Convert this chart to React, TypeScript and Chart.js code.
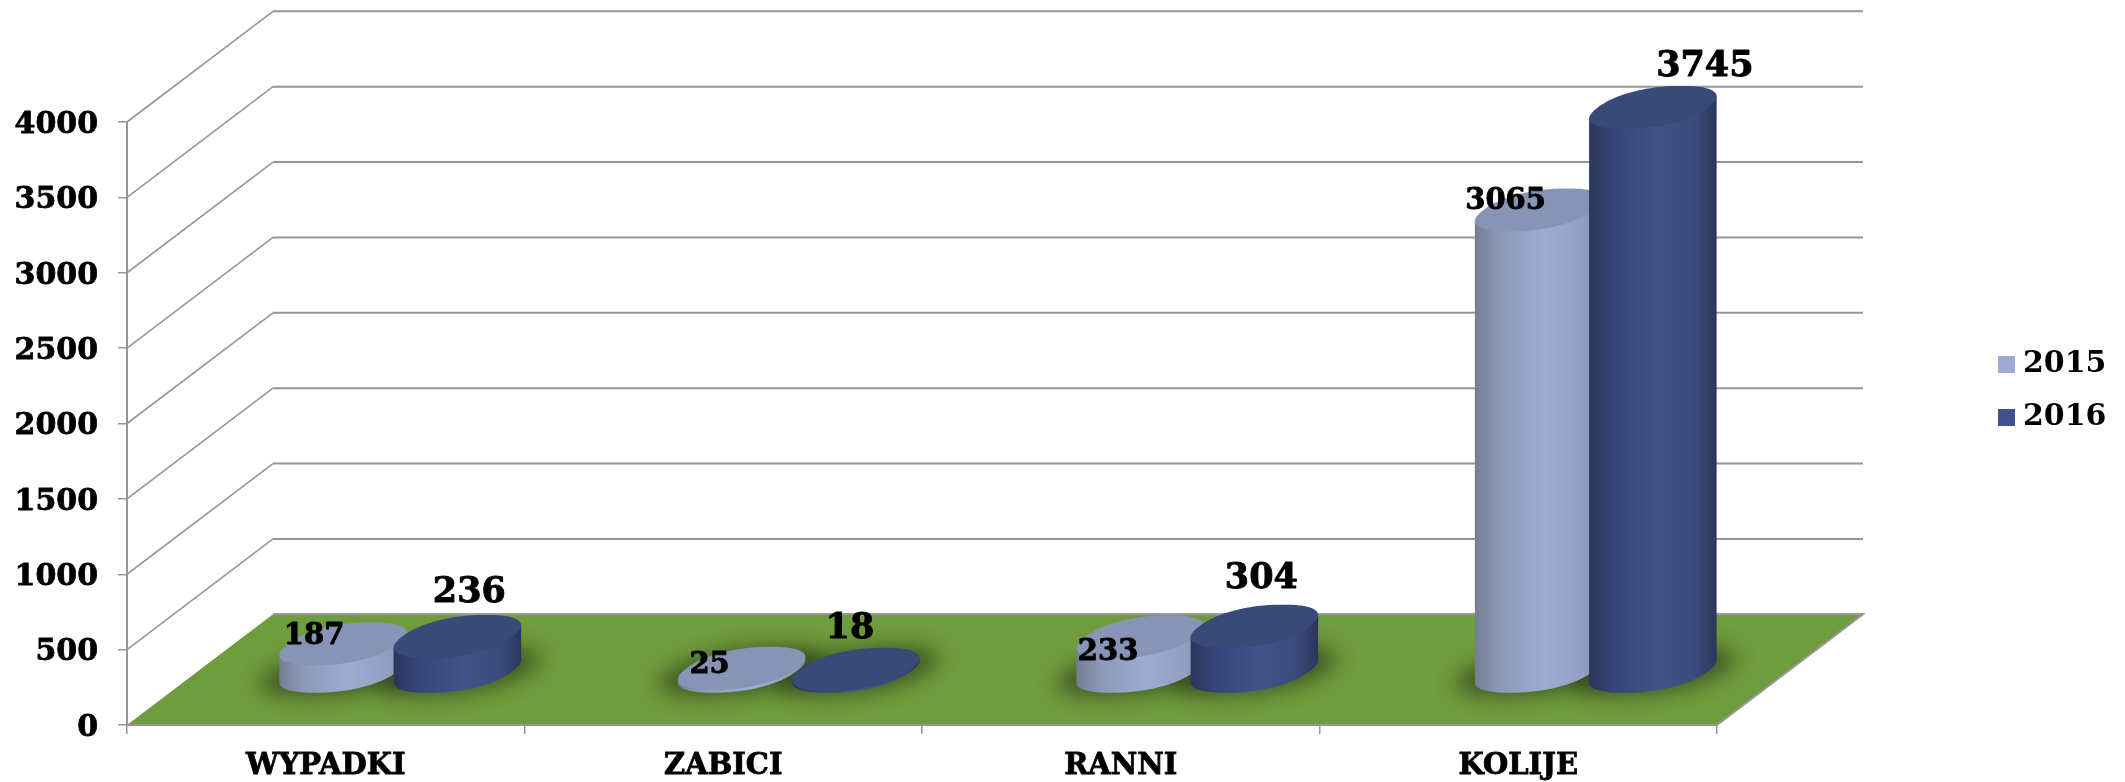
import React, { useEffect, useRef } from "react";
import { Chart, registerables } from "chart.js";

Chart.register(...registerables);

const categories = ["WYPADKI", "ZABICI", "RANNI", "KOLIJE"];
const seriesNames = ["2015", "2016"];
const values2015 = [187, 25, 233, 3065];
const values2016 = [236, 18, 304, 3745];
const yMax = 4000;
const yStep = 500;

// Hand placement of the value labels, relative to the centre of each cylinder's top.
const labelNudge2015 = [[-29, -7], [-32, -3], [-32, 16], [-33, -8]];
const labelNudge2016 = [[12, -44], [-6, -40], [7, -47], [52, -41]];

const FONT = '"DejaVu Serif"';
const GRID = "#969696";
const FLOOR = "#6f9c3c";
const DEPTH_X = 146;
const DEPTH_Y = -110.7;
const MID_X = 74;
const MID_Y = -53;
const SPREAD = 1.0025;
const ELL_A = 0.965;
const ELL_VX = 28.4;
const ELL_VY = -21.5;
const ELL_POWER = 2 / 2.25;
const STEPS = 180;

const looks = [
  {
    swatch: "#9dabd0",
    top: "#8794b5",
    stops: [[0, "#747e92"], [0.18, "#8c98b8"], [0.55, "#9eacd1"], [0.85, "#929fc2"], [1, "#7f8aa8"]],
    labelSize: 29,
    nudge: labelNudge2015,
  },
  {
    swatch: "#41528a",
    top: "#384a78",
    stops: [[0, "#2a3659"], [0.2, "#36467a"], [0.55, "#425389"], [0.85, "#394a7a"], [1, "#2a3659"]],
    labelSize: 35,
    nudge: labelNudge2016,
  },
];

function rim(cx: number, cy: number, a: number, sx = 1, sy = 1) {
  const pts: number[][] = [];
  for (let i = 0; i < STEPS; i++) {
    const t = (i / STEPS) * Math.PI * 2;
    const c = Math.sign(Math.cos(t)) * Math.pow(Math.abs(Math.cos(t)), ELL_POWER);
    const s = Math.sign(Math.sin(t)) * Math.pow(Math.abs(Math.sin(t)), ELL_POWER);
    pts.push([cx + sx * (a * c + ELL_VX * s), cy + sy * ELL_VY * s]);
  }
  return pts;
}

function tracePoly(ctx: CanvasRenderingContext2D, pts: number[][]) {
  ctx.beginPath();
  pts.forEach((p, i) => (i === 0 ? ctx.moveTo(p[0], p[1]) : ctx.lineTo(p[0], p[1])));
  ctx.closePath();
}

const scene = {
  id: "scene",
  afterLayout(chart: any) {
    const legend = chart.legend;
    if (!legend) return;
    const w = legend.width;
    const h = legend.height;
    legend.left = 1982;
    legend.right = 1982 + w;
    legend.top = 326;
    legend.bottom = 326 + h;
  },
  beforeDatasetsDraw(chart: any) {
    const { ctx, chartArea, scales } = chart;
    const yS = scales.y;
    const left = chartArea.left;
    const right = chartArea.right;
    const bottom = yS.getPixelForValue(0);
    const centreX = (el: any) => left + (el.x - left) * SPREAD + MID_X;

    ctx.save();
    // walls: back-wall rules and left-wall diagonals, one per axis tick
    ctx.strokeStyle = GRID;
    yS.ticks.forEach((t: any) => {
      const y = yS.getPixelForValue(t.value);
      ctx.lineWidth = 1.6;
      if (t.value !== 0) {
        ctx.beginPath();
        ctx.moveTo(left, y);
        ctx.lineTo(left + DEPTH_X, y + DEPTH_Y);
        ctx.stroke();
      }
      ctx.lineWidth = 2;
      ctx.beginPath();
      ctx.moveTo(left + DEPTH_X, y + DEPTH_Y);
      ctx.lineTo(right + DEPTH_X, y + DEPTH_Y);
      ctx.stroke();
    });

    // floor
    ctx.fillStyle = FLOOR;
    ctx.beginPath();
    ctx.moveTo(left, bottom);
    ctx.lineTo(left + DEPTH_X, bottom + DEPTH_Y);
    ctx.lineTo(right + DEPTH_X, bottom + DEPTH_Y);
    ctx.lineTo(right, bottom);
    ctx.closePath();
    ctx.fill();
    ctx.lineWidth = 2;
    ctx.beginPath();
    ctx.moveTo(left + DEPTH_X, bottom + DEPTH_Y);
    ctx.lineTo(right + DEPTH_X, bottom + DEPTH_Y);
    ctx.lineTo(right, bottom);
    ctx.lineTo(left, bottom);
    ctx.stroke();

    const metas = [chart.getDatasetMeta(0), chart.getDatasetMeta(1)];

    // soft contact shadows
    ctx.save();
    ctx.filter = "blur(10px)";
    ctx.fillStyle = "rgba(38,52,22,0.66)";
    metas.forEach((meta: any) => {
      meta.data.forEach((el: any) => {
        tracePoly(ctx, rim(centreX(el), el.base + MID_Y, (el.width / 2) * ELL_A, 1.3, 1.14));
        ctx.fill();
      });
    });
    ctx.restore();

    // cylinders, category by category, series by series
    categories.forEach((_, c) => {
      metas.forEach((meta: any, s: number) => {
        const el = meta.data[c];
        const look = looks[s];
        const cx = centreX(el);
        const a = (el.width / 2) * ELL_A;
        const topRim = rim(cx, el.y + MID_Y, a);
        const baseRim = rim(cx, el.base + MID_Y, a);
        let iL = 0;
        let iR = 0;
        topRim.forEach((p, i) => {
          if (p[0] < topRim[iL][0]) iL = i;
          if (p[0] > topRim[iR][0]) iR = i;
        });
        const g = ctx.createLinearGradient(topRim[iL][0], 0, topRim[iR][0], 0);
        look.stops.forEach((st: any) => g.addColorStop(st[0], st[1]));
        ctx.fillStyle = g;
        // side wall: down the left edge, along the front of the base rim, up the right edge
        const side = [topRim[iL]];
        for (let i = iL; ; i = (i + 1) % STEPS) {
          side.push(baseRim[i]);
          if (i === iR) break;
        }
        side.push(topRim[iR]);
        tracePoly(ctx, side);
        ctx.fill();
        tracePoly(ctx, topRim);
        ctx.fillStyle = look.top;
        ctx.fill();
      });
    });

    // value labels
    ctx.fillStyle = "#000";
    ctx.strokeStyle = "#000";
    ctx.lineWidth = 0.9;
    ctx.lineJoin = "round";
    ctx.textAlign = "center";
    ctx.textBaseline = "middle";
    metas.forEach((meta: any, s: number) => {
      const look = looks[s];
      ctx.font = `bold ${look.labelSize}px ${FONT}`;
      meta.data.forEach((el: any, c: number) => {
        const value = String(chart.data.datasets[s].data[c]);
        const n = look.nudge[c];
        const lx = centreX(el) + n[0];
        const ly = el.y + MID_Y + n[1];
        ctx.fillText(value, lx, ly);
        ctx.strokeText(value, lx, ly);
      });
    });
    ctx.restore();
    return false;
  },
};

function swatch(color: string) {
  const c = document.createElement("canvas");
  c.width = 17;
  c.height = 17;
  const x = c.getContext("2d") as CanvasRenderingContext2D;
  x.fillStyle = color;
  x.fillRect(0, 0, 17, 17);
  return c;
}

export default function App() {
  const ref = useRef<HTMLCanvasElement | null>(null);
  useEffect(() => {
    if (!ref.current) return;
    const chart = new Chart(ref.current, {
      type: "bar",
      data: {
        labels: categories,
        datasets: [
          { label: seriesNames[0], data: values2015, backgroundColor: looks[0].swatch },
          { label: seriesNames[1], data: values2016, backgroundColor: looks[1].swatch },
        ],
      },
      plugins: [scene],
      options: {
        animation: false,
        responsive: false,
        devicePixelRatio: 1,
        layout: { padding: { top: 122, left: 0, right: 408, bottom: 0 } },
        datasets: { bar: { categoryPercentage: 228 / 397.5, barPercentage: 1 } },
        scales: {
          x: {
            afterFit: (s: any) => { s.height = 57; },
            grid: { drawOnChartArea: false, drawTicks: true, tickLength: 9, color: GRID, lineWidth: 1.5 },
            border: { color: GRID, width: 2 },
            ticks: {
              color: "#000",
              font: { family: FONT, size: 29, weight: "bold" },
              textStrokeColor: "#000",
              textStrokeWidth: 0.8,
              padding: 15,
              maxRotation: 0,
              autoSkip: false,
            },
          },
          y: {
            min: 0,
            max: yMax,
            afterFit: (s: any) => { s.width = 127; },
            grid: { drawOnChartArea: false, drawTicks: true, tickLength: 9, color: GRID, lineWidth: 1.5 },
            border: { color: GRID, width: 2 },
            ticks: {
              stepSize: yStep,
              callback: (v: any) => String(v),
              color: "#000",
              font: { family: FONT, size: 30, weight: "bold" },
              textStrokeColor: "#000",
              textStrokeWidth: 0.8,
              labelOffset: 3,
              padding: 20,
            },
          },
        },
        plugins: {
          tooltip: { enabled: false },
          title: { display: false },
          legend: {
            position: "chartArea",
            align: "start",
            labels: {
              usePointStyle: true,
              pointStyleWidth: 3,
              padding: 23,
              color: "#000",
              font: { family: FONT, size: 30, weight: "bold" },
              generateLabels: (c: any) =>
                c.data.datasets.map((d: any, i: number) => ({
                  text: d.label,
                  datasetIndex: i,
                  hidden: false,
                  lineWidth: 0,
                  fillStyle: d.backgroundColor,
                  strokeStyle: d.backgroundColor,
                  pointStyle: swatch(d.backgroundColor),
                })),
            },
          },
        },
      },
    } as any);
    return () => chart.destroy();
  }, []);
  return (
    <div style={{ position: "fixed", left: 0, top: 0, width: 2125, height: 782, background: "#fff", overflow: "hidden" }}>
      <canvas ref={ref} width={2125} height={782} style={{ display: "block" }} />
    </div>
  );
}
